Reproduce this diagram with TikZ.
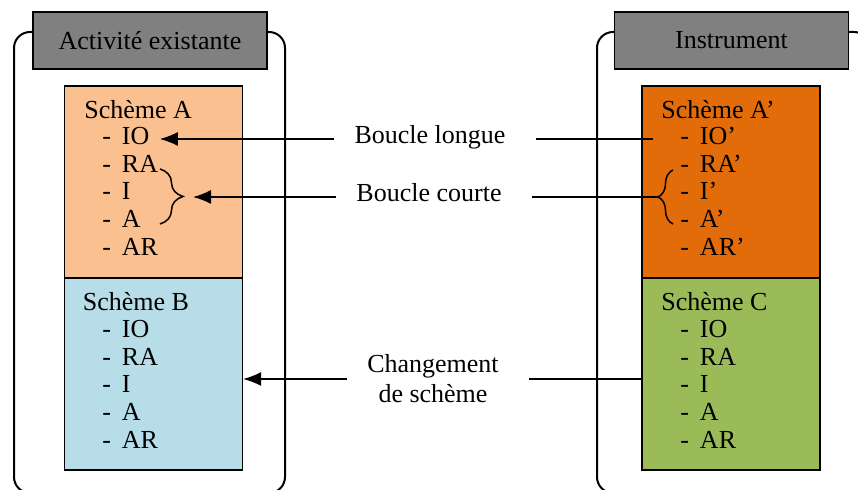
\documentclass[tikz,border=0pt]{standalone}
\usepackage{fontspec}
\setmainfont{Liberation Serif}
\usetikzlibrary{arrows.meta, decorations.pathreplacing}

\definecolor{hdrgray}{RGB}{128,128,128}
\definecolor{peach}{RGB}{250,192,143}
\definecolor{lightblue}{RGB}{183,221,232}
\definecolor{darkorange}{RGB}{227,108,10}
\definecolor{olivegreen}{RGB}{155,187,89}

\newcommand{\dashitem}[1]{\makebox[9.8pt][l]{-}#1}

\tikzset{
  frame/.style={line width=1pt, rounded corners=8pt},
  header/.style={draw, line width=0.8pt, fill=hdrgray, minimum width=117pt, minimum height=28.5pt, inner sep=0pt},
  schbox/.style={draw, line width=0.8pt, minimum width=89pt, minimum height=96pt, anchor=north west, inner sep=0pt},
  item/.style={anchor=base west, inner sep=0pt},
  lbl/.style={inner xsep=10pt, text height=0.7em, text depth=0.22em},
  conn/.style={line width=0.75pt},
  arr/.style={line width=0.75pt, -{Latex[length=9pt,width=7pt]}},
  bracearc/.style={line width=0.75pt, decorate, decoration={brace, amplitude=#1}},
}

\begin{document}
\begin{tikzpicture}[x=0.5pt, y=-0.5pt, font=\fontsize{13}{15}\selectfont]
  \useasboundingbox (0,0) rectangle (858,490);

  % activite existante
  \draw[frame] (14,32) rectangle (285,493);
  \node[header] (hdrL) at (150,40.5) {Activité existante};
  \node[schbox, fill=peach] (schA) at (63.5,85) {};
  \node[schbox, fill=lightblue] (schB) at (63.5,277) {};
  \node[item] (sA) at (84,118.5) {Schème A};
  \foreach \t/\k [count=\i] in {IO/io, RA/ra, I/i, A/a, AR/ar}
    \node[item] (a\k) at (102,{144.5+27.7*(\i-1)}) {\dashitem{\t}};
  \node[item] (sB) at (82.5,310.5) {Schème B};
  \foreach \t/\k [count=\i] in {IO/io, RA/ra, I/i, A/a, AR/ar}
    \node[item] (b\k) at (102,{337.5+27.7*(\i-1)}) {\dashitem{\t}};
  \draw[bracearc=11.5pt] (160,169) -- (160,224);
  \coordinate (tipA) at (183,197);

  % instrument
  \draw[frame] (597,32) rectangle (870,493);
  \node[header] (hdrR) at (731.5,40.5) {Instrument};
  \node[schbox, fill=darkorange] (schAp) at (641,85) {};
  \node[schbox, fill=olivegreen] (schC) at (641,277) {};
  \node[item] (sAp) at (661,118.5) {Schème A’};
  \foreach \t/\k [count=\i] in {IO’/io, RA’/ra, I’/i, A’/a, AR’/ar}
    \node[item] (ap\k) at (680,{144.5+27.7*(\i-1)}) {\dashitem{\t}};
  \node[item] (sC) at (661,310.5) {Schème C};
  \foreach \t/\k [count=\i] in {IO/io, RA/ra, I/i, A/a, AR/ar}
    \node[item] (c\k) at (680,{337.5+27.7*(\i-1)}) {\dashitem{\t}};
  \draw[bracearc=7.5pt] (673,224) -- (673,170);
  \coordinate (tipAp) at (658,197);
  \coordinate (ioEnd) at (653,139);

  % boucles
  \node[lbl] (longue) at (430,139) {Boucle longue};
  \node[lbl] (courte) at (429,197) {Boucle courte};
  \node[align=center, inner xsep=10pt] (chgt) at (433,379) {Changement\\de schème};

  \draw[arr, shorten >=5pt] (longue.west) -- (longue.west -| aio.east);
  \draw[conn, shorten <=5pt] (longue.east) -- (ioEnd);
  \draw[arr, shorten >=5pt] (courte.west) -- (tipA);
  \draw[conn, shorten <=5pt] (courte.east) -- (tipAp);
  \draw[arr] (chgt.west) -- (chgt.west -| schB.east);
  \draw[conn, shorten <=5pt] (chgt.east) -- (chgt.east -| schC.west);
\end{tikzpicture}
\end{document}
